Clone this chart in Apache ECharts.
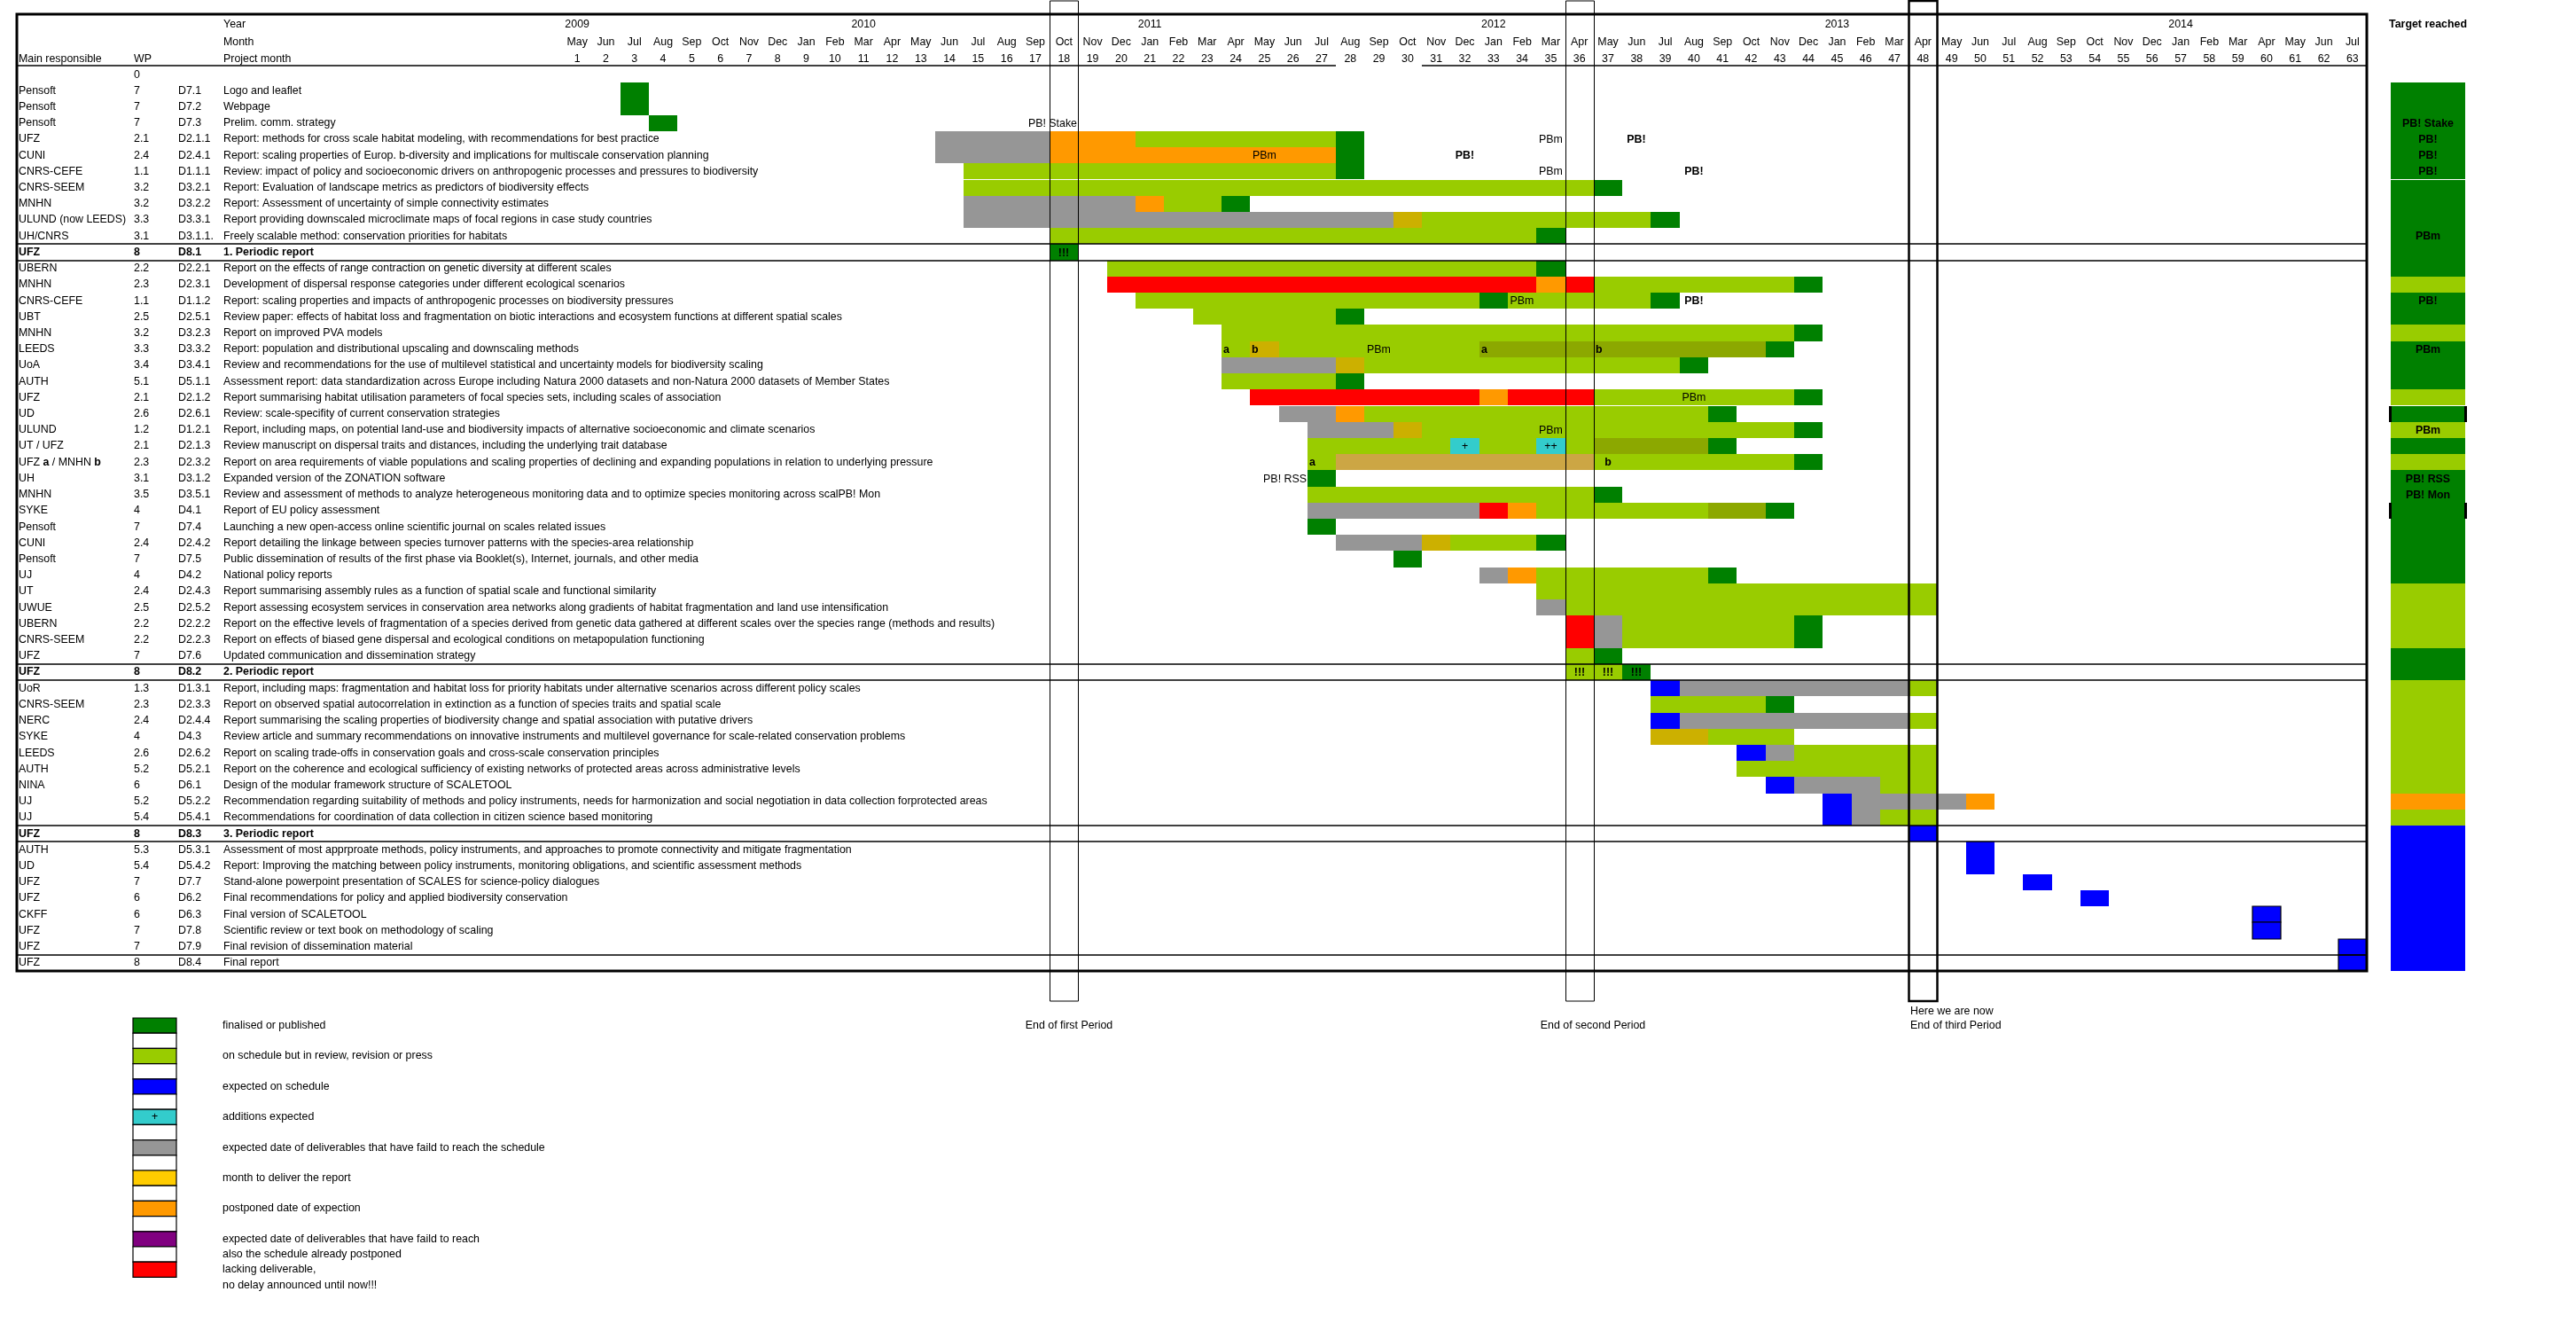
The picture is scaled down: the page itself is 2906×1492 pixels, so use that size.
<!DOCTYPE html>
<html><head><meta charset="utf-8">
<script src="https://cdn.jsdelivr.net/npm/echarts/dist/echarts.min.js"></script>
<style>html,body{margin:0;padding:0;background:#fff}#c{width:2906px;height:1492px}</style>
</head><body><div id="c"></div>
<script>
const FONT = "'Liberation Sans',Arial,sans-serif";
const FS = 12.4;

// ---------- axis tick labels ----------
const projectMonths = ['1','2','3','4','5','6','7','8','9','10','11','12','13','14','15','16','17','18','19','20','21','22','23','24','25','26','27','28','29','30','31','32','33','34','35','36','37','38','39','40','41','42','43','44','45','46','47','48','49','50','51','52','53','54','55','56','57','58','59','60','61','62','63'];
const monthNames = ['May','Jun','Jul','Aug','Sep','Oct','Nov','Dec','Jan','Feb','Mar','Apr','May','Jun','Jul','Aug','Sep','Oct','Nov','Dec','Jan','Feb','Mar','Apr','May','Jun','Jul','Aug','Sep','Oct','Nov','Dec','Jan','Feb','Mar','Apr','May','Jun','Jul','Aug','Sep','Oct','Nov','Dec','Jan','Feb','Mar','Apr','May','Jun','Jul','Aug','Sep','Oct','Nov','Dec','Jan','Feb','Mar','Apr','May','Jun','Jul'];
const yearMonths = [1, 11, 21, 33, 45, 57];
const yearLabels = ['2009','2010','2011','2012','2013','2014'];

// ---------- row categories ----------
const responsible = ['','Pensoft','Pensoft','Pensoft','UFZ','CUNI','CNRS-CEFE','CNRS-SEEM','MNHN','ULUND (now LEEDS)','UH/CNRS','UFZ','UBERN','MNHN','CNRS-CEFE','UBT','MNHN','LEEDS','UoA','AUTH','UFZ','UD','ULUND','UT / UFZ','UFZ *a* / MNHN *b*','UH','MNHN','SYKE','Pensoft','CUNI','Pensoft','UJ','UT','UWUE','UBERN','CNRS-SEEM','UFZ','UFZ','UoR','CNRS-SEEM','NERC','SYKE','LEEDS','AUTH','NINA','UJ','UJ','UFZ','AUTH','UD','UFZ','UFZ','CKFF','UFZ','UFZ','UFZ'];
const wp = ['0','7','7','7','2.1','2.4','1.1','3.2','3.2','3.3','3.1','8','2.2','2.3','1.1','2.5','3.2','3.3','3.4','5.1','2.1','2.6','1.2','2.1','2.3','3.1','3.5','4','7','2.4','7','4','2.4','2.5','2.2','2.2','7','8','1.3','2.3','2.4','4','2.6','5.2','6','5.2','5.4','8','5.3','5.4','7','6','6','7','7','8'];
const deliverables = ['','D7.1','D7.2','D7.3','D2.1.1','D2.4.1','D1.1.1','D3.2.1','D3.2.2','D3.3.1','D3.1.1.','D8.1','D2.2.1','D2.3.1','D1.1.2','D2.5.1','D3.2.3','D3.3.2','D3.4.1','D5.1.1','D2.1.2','D2.6.1','D1.2.1','D2.1.3','D2.3.2','D3.1.2','D3.5.1','D4.1','D7.4','D2.4.2','D7.5','D4.2','D2.4.3','D2.5.2','D2.2.2','D2.2.3','D7.6','D8.2','D1.3.1','D2.3.3','D2.4.4','D4.3','D2.6.2','D5.2.1','D6.1','D5.2.2','D5.4.1','D8.3','D5.3.1','D5.4.2','D7.7','D6.2','D6.3','D7.8','D7.9','D8.4'];
const descriptions = [
 '',
 'Logo and leaflet',
 'Webpage',
 'Prelim. comm. strategy',
 'Report: methods for cross scale habitat modeling, with recommendations for best practice',
 'Report: scaling properties of Europ. b-diversity and implications for multiscale conservation planning',
 'Review: impact of policy and socioeconomic drivers on anthropogenic processes and pressures to biodiversity',
 'Report: Evaluation of landscape metrics as predictors of biodiversity effects',
 'Report: Assessment of uncertainty of simple connectivity estimates',
 'Report providing downscaled microclimate maps of focal regions in case study countries',
 'Freely scalable method: conservation priorities for habitats',
 '1. Periodic report',
 'Report on the effects of range contraction on genetic diversity at different scales',
 'Development of dispersal response categories under different ecological scenarios',
 'Report: scaling properties and impacts of anthropogenic processes on biodiversity pressures',
 'Review paper: effects of habitat loss and fragmentation on biotic interactions and ecosystem functions at different spatial scales',
 'Report on improved PVA models',
 'Report: population and distributional upscaling and downscaling methods',
 'Review and recommendations for the use of multilevel statistical and uncertainty models for biodiversity scaling',
 'Assessment report: data standardization across Europe including Natura 2000 datasets and non-Natura 2000 datasets of Member States',
 'Report summarising habitat utilisation parameters of focal species sets, including scales of association',
 'Review: scale-specifity of current conservation strategies',
 'Report, including maps, on potential land-use and biodiversity impacts of alternative socioeconomic and climate scenarios',
 'Review manuscript on dispersal traits and distances, including the underlying trait database',
 'Report on area requirements of viable populations and scaling properties of declining and expanding populations in relation to underlying pressure',
 'Expanded version of the ZONATION software',
 'Review and assessment of methods to analyze heterogeneous monitoring data and to optimize species monitoring across scalPB! Mon',
 'Report of EU policy assessment',
 'Launching a new open-access online scientific journal on scales related issues',
 'Report detailing the linkage between species turnover patterns with the species-area relationship',
 'Public dissemination of results of the first phase via Booklet(s), Internet, journals, and other media',
 'National policy reports',
 'Report summarising assembly rules as a function of spatial scale and functional similarity',
 'Report assessing ecosystem services in conservation area networks along gradients of habitat fragmentation and land use intensification',
 'Report on the effective levels of fragmentation of a species derived from genetic data gathered at different scales over the species range (methods and results)',
 'Report on effects of biased gene dispersal and ecological conditions on metapopulation functioning',
 'Updated communication and dissemination strategy',
 '2. Periodic report',
 'Report, including maps: fragmentation and habitat loss for priority habitats under alternative scenarios across different policy scales',
 'Report on observed spatial autocorrelation in extinction as a function of species traits and spatial scale',
 'Report summarising the scaling properties of biodiversity change and spatial association with putative drivers',
 'Review article and summary recommendations on innovative instruments and multilevel governance for scale-related conservation problems',
 'Report on scaling trade-offs in conservation goals and cross-scale conservation principles',
 'Report on the coherence and ecological sufficiency of existing networks of protected areas across administrative levels',
 'Design of the modular framework structure of SCALETOOL',
 'Recommendation regarding suitability of methods and policy instruments, needs for harmonization and social negotiation in data collection forprotected areas',
 'Recommendations for coordination of data collection in citizen science based monitoring',
 '3. Periodic report',
 'Assessment of most apprproate methods, policy instruments, and approaches to promote connectivity and mitigate fragmentation',
 'Report: Improving the matching between policy instruments, monitoring obligations, and scientific assessment methods',
 'Stand-alone powerpoint presentation of SCALES for science-policy dialogues',
 'Final recommendations for policy and applied biodiversity conservation',
 'Final version of SCALETOOL',
 'Scientific review or text book on methodology of scaling',
 'Final revision of dissemination material',
 'Final report'
];
const boldRows = [11, 37, 47];

// ---------- status colours ----------
const statusColors = {
  G: '#008000', // finalised or published
  L: '#99cc00', // on schedule but in review
  B: '#0000ff', // expected on schedule
  C: '#33cccc', // additions expected
  X: '#969696', // failed to reach schedule
  Y: '#ccb000', // month to deliver (as shown in cells)
  O: '#ff9900', // postponed
  R: '#ff0000', // lacking deliverable
  V: '#8ca800', // second part (olive)
  T: '#cca644'  // tan
};

// ---------- segments: [row, startMonth, endMonth, status, bordered] ----------
const segments = [
 [1,3,3,'G'],[2,3,3,'G'],[3,4,4,'G'],
 [4,14,17,'X'],[4,18,20,'O'],[4,21,27,'L'],[4,28,28,'G'],
 [5,14,17,'X'],[5,18,27,'O'],[5,28,28,'G'],
 [6,15,27,'L'],[6,28,28,'G'],
 [7,15,36,'L'],[7,37,37,'G'],
 [8,15,20,'X'],[8,21,21,'O'],[8,22,23,'L'],[8,24,24,'G'],
 [9,15,29,'X'],[9,30,30,'Y'],[9,31,38,'L'],[9,39,39,'G'],
 [10,18,34,'L'],[10,35,35,'G'],
 [11,18,18,'G'],
 [12,20,34,'L'],[12,35,35,'G'],
 [13,20,34,'R'],[13,35,35,'O'],[13,36,36,'R'],[13,37,43,'L'],[13,44,44,'G'],
 [14,21,32,'L'],[14,33,33,'G'],[14,34,38,'L'],[14,39,39,'G'],
 [15,23,27,'L'],[15,28,28,'G'],
 [16,24,43,'L'],[16,44,44,'G'],
 [17,24,24,'L'],[17,25,25,'Y'],[17,26,32,'L'],[17,33,42,'V'],[17,43,43,'G'],
 [18,24,27,'X'],[18,28,28,'Y'],[18,29,39,'L'],[18,40,40,'G'],
 [19,24,27,'L'],[19,28,28,'G'],
 [20,25,32,'R'],[20,33,33,'O'],[20,34,36,'R'],[20,37,43,'L'],[20,44,44,'G'],
 [21,26,27,'X'],[21,28,28,'O'],[21,29,40,'L'],[21,41,41,'G'],
 [22,27,29,'X'],[22,30,30,'Y'],[22,31,43,'L'],[22,44,44,'G'],
 [23,27,31,'L'],[23,32,32,'C'],[23,33,34,'L'],[23,35,35,'C'],[23,36,36,'L'],[23,37,40,'V'],[23,41,41,'G'],
 [24,27,27,'L'],[24,28,36,'T'],[24,37,43,'L'],[24,44,44,'G'],
 [25,27,27,'G'],
 [26,27,36,'L'],[26,37,37,'G'],
 [27,27,32,'X'],[27,33,33,'R'],[27,34,34,'O'],[27,35,40,'L'],[27,41,42,'V'],[27,43,43,'G'],
 [28,27,27,'G'],
 [29,28,30,'X'],[29,31,31,'Y'],[29,32,34,'L'],[29,35,35,'G'],
 [30,30,30,'G'],
 [31,33,33,'X'],[31,34,34,'O'],[31,35,40,'L'],[31,41,41,'G'],
 [32,35,48,'L'],
 [33,35,35,'X'],[33,36,48,'L'],
 [34,36,36,'R'],[34,37,37,'X'],[34,38,43,'L'],[34,44,44,'G'],
 [35,36,36,'R'],[35,37,37,'X'],[35,38,43,'L'],[35,44,44,'G'],
 [36,36,36,'L'],[36,37,37,'G'],
 [37,36,37,'L'],[37,38,38,'G'],
 [38,39,39,'B'],[38,40,47,'X'],[38,48,48,'L'],
 [39,39,42,'L'],[39,43,43,'G'],
 [40,39,39,'B'],[40,40,47,'X'],[40,48,48,'L'],
 [41,39,40,'Y'],[41,41,43,'L'],
 [42,42,42,'B'],[42,43,43,'X'],[42,44,48,'L'],
 [43,42,48,'L'],
 [44,43,43,'B'],[44,44,46,'X'],[44,47,48,'L'],
 [45,45,45,'B'],[45,46,49,'X'],[45,50,50,'O'],
 [46,45,45,'B'],[46,46,46,'X'],[46,47,48,'L'],
 [47,48,48,'B'],
 [48,50,50,'B'],[49,50,50,'B'],
 [50,52,52,'B'],
 [51,54,54,'B'],
 [52,60,60,'B',1],[53,60,60,'B',1],
 [54,63,63,'B',1],[55,63,63,'B',1]
];

// ---------- notes inside cells: [row, month, text, bold, align] ----------
const cellNotes = [
 [3,18,'PB! Stake',0,'right'],
 [4,35,'PBm',0,'center'],[4,38,'PB!',1,'center'],
 [5,25,'PBm',0,'center'],[5,32,'PB!',1,'center'],
 [6,35,'PBm',0,'center'],[6,40,'PB!',1,'center'],
 [11,18,'!!!',1,'center'],
 [14,34,'PBm',0,'center'],[14,40,'PB!',1,'center'],
 [17,24,'a',1,'left'],[17,25,'b',1,'left'],[17,29,'PBm',0,'center'],[17,33,'a',1,'left'],[17,37,'b',1,'left'],
 [20,40,'PBm',0,'center'],
 [22,35,'PBm',0,'center'],
 [23,32,'+',0,'center'],[23,35,'++',0,'center'],
 [24,27,'a',1,'left'],[24,37,'b',1,'center'],
 [25,26,'PB! RSS',0,'right'],
 [37,36,'!!!',1,'center'],[37,37,'!!!',1,'center'],[37,38,'!!!',1,'center']
];

// ---------- "Target reached" column ----------
const targetStatus = ['', 'G','G','G','G','G','G','G','G','G','G','G','G','L','G','G','L','G','G','G','L','G','L','G','L','G','G','G','G','G','G','G','L','L','L','L','G','G','L','L','L','L','L','L','L','O','L','B','B','B','B','B','B','B','B','B'];
const targetNotes = [[3,'PB! Stake'],[4,'PB!'],[5,'PB!'],[6,'PB!'],[10,'PBm'],[14,'PB!'],[17,'PBm'],[22,'PBm'],[25,'PB! RSS'],[26,'PB! Mon']];
const targetMarks = [21, 27];

// ---------- periods ----------
const periodMonths = [18, 36, 48];
const periodLabels = ['End of first Period', 'End of second Period', 'Here we are now\nEnd of third Period'];
const separatorRows = [11, 37, 47, 55];

// ---------- legend ----------
const legendColors = ['#008000','#99cc00','#0000ff','#33cccc','#969696','#ffcc00','#ff9900','#800080','#ff0000'];
const legendLabels = ['finalised or published','on schedule but in review, revision or press','expected on schedule','additions expected','expected date of deliverables that have faild to reach the schedule','month to deliver the report','postponed date of expection','expected date of deliverables that have faild to reach\nalso the schedule already postponed','lacking deliverable,\nno delay announced until now!!!'];

// ---------- layout constants ----------
const GRID_LEFT = 635, GRID_RIGHT_X = 2670, GRID_TOP = 75, GRID_BOTTOM_Y = 1095;
const TABLE_LEFT = 19, TABLE_TOP = 16;
const COL_X = {resp: 21, wp: 151, del: 201, desc: 252};

const rowIdx = responsible.map((_, i) => String(i));

function richify(s) { return s.replace(/\*(.+?)\*/g, '{b|$1}'); }
function labelAxis(arr, x) {
  return {
    type: 'category', gridIndex: 0, data: rowIdx, inverse: true, position: 'left',
    offset: GRID_LEFT - x,
    axisLine: {show: false}, axisTick: {show: false}, splitLine: {show: false},
    axisLabel: {
      interval: 0, margin: 0, align: 'left', color: '#000', fontFamily: FONT, fontSize: FS,
      formatter: (v) => { const i = +v; const t = arr[i]; if (!t) return ''; return boldRows.includes(i) ? '{b|' + t + '}' : richify(t); },
      rich: {b: {fontWeight: 'bold', fontFamily: FONT, fontSize: FS, color: '#000'}}
    }
  };
}
function topAxis(offset, fmt) {
  return {
    type: 'category', gridIndex: 0, data: projectMonths, position: 'top', offset: offset,
    axisLine: {show: false}, axisTick: {show: false}, splitLine: {show: false},
    axisLabel: {interval: 0, margin: 2, color: '#000', fontFamily: FONT, fontSize: FS, formatter: fmt}
  };
}

function txt(text, x, y, opt) {
  opt = opt || {};
  return {type: 'text', x: x, y: y, z: 50, style: {text: text, fill: '#000', font: (opt.bold ? 'bold ' : '') + FS + 'px ' + FONT, align: opt.align || 'left', textAlign: opt.align || 'left', verticalAlign: 'middle', textVerticalAlign: 'middle', lineHeight: 17}};
}

const graphics = [];
// table frame
graphics.push({type: 'rect', z: 40, shape: {x: TABLE_LEFT, y: TABLE_TOP, width: GRID_RIGHT_X - TABLE_LEFT, height: GRID_BOTTOM_Y - TABLE_TOP}, style: {fill: 'none', stroke: '#000', lineWidth: 3}});
// header texts
graphics.push(txt('Year', COL_X.desc, 28), txt('Month', COL_X.desc, 48), txt('Project month', COL_X.desc, 67),
  txt('Main responsible', COL_X.resp, 67), txt('WP', COL_X.wp, 67),
  txt('Target reached', 2739, 28, {bold: true, align: 'center'}));
// legend
const LG_X = 150, LG_Y = 1148, LG_W = 49, LG_H = 17.2;
for (let i = 0; i < legendColors.length * 2 - 1; i++) {
  const colored = i % 2 === 0, k = i / 2;
  graphics.push({type: 'rect', z: 40, shape: {x: LG_X, y: LG_Y + i * LG_H, width: LG_W, height: LG_H}, style: {fill: colored ? legendColors[k] : '#fff', stroke: '#000', lineWidth: 1.2}});
  if (colored) {
    const cy = LG_Y + i * LG_H + LG_H / 2;
    const lines = legendLabels[k].split('\n');
    lines.forEach((ln, j) => graphics.push(txt(ln, 251, cy + j * 17.5)));
    if (k === 3) graphics.push(txt('+', LG_X + LG_W / 2, cy, {align: 'center'}));
  }
}

const chart = echarts.init(document.getElementById('c'), null, {renderer: 'canvas'});

function cellRect(api, row, s, e) {
  const c0 = api.coord([s, row]);
  const sz = api.size([1, 1]);
  const x0 = Math.round(c0[0] - sz[0] / 2);
  const x1 = Math.round(c0[0] - sz[0] / 2 + (e - s + 1) * sz[0]);
  const y0 = Math.round(c0[1] - sz[1] / 2);
  const y1 = Math.round(c0[1] + sz[1] / 2);
  return {x: x0, y: y0, width: x1 - x0, height: y1 - y0};
}

const option = {
  backgroundColor: '#fff',
  animation: false,
  textStyle: {fontFamily: FONT},
  grid: [
    {left: GRID_LEFT, top: GRID_TOP, width: GRID_RIGHT_X - GRID_LEFT, height: GRID_BOTTOM_Y - GRID_TOP},
    {left: 2697, top: GRID_TOP, width: 84, height: GRID_BOTTOM_Y - GRID_TOP}
  ],
  xAxis: [
    topAxis(0, (v) => v),
    topAxis(19, (v, i) => monthNames[i]),
    topAxis(39, (v, i) => { const k = yearMonths.indexOf(i + 1); return k >= 0 ? yearLabels[k] : ''; }),
    {type: 'category', gridIndex: 1, data: ['target'], show: false}
  ],
  yAxis: [
    {type: 'category', gridIndex: 0, data: rowIdx, inverse: true, show: false},
    labelAxis(responsible, COL_X.resp),
    labelAxis(wp, COL_X.wp),
    labelAxis(deliverables, COL_X.del),
    labelAxis(descriptions, COL_X.desc),
    {type: 'category', gridIndex: 1, data: rowIdx, inverse: true, show: false}
  ],
  graphic: graphics,
  series: [
    { // status bars
      type: 'custom', name: 'status', xAxisIndex: 0, yAxisIndex: 0, z: 5,
      data: segments.map(s => [s[0], s[1] - 1, s[2] - 1]),
      encode: {x: [1, 2], y: 0},
      renderItem(params, api) {
        const seg = segments[params.dataIndex];
        const r = cellRect(api, api.value(0), api.value(1), api.value(2));
        return {type: 'rect', shape: r, style: {fill: statusColors[seg[3]], stroke: seg[4] ? '#000' : null, lineWidth: seg[4] ? 1.2 : 0}};
      }
    },
    { // notes in cells
      type: 'custom', name: 'notes', xAxisIndex: 0, yAxisIndex: 0, z: 8,
      data: cellNotes.map(n => [n[0], n[1] - 1]),
      encode: {x: 1, y: 0},
      renderItem(params, api) {
        const n = cellNotes[params.dataIndex];
        const r = cellRect(api, api.value(0), api.value(1), api.value(1));
        const al = n[4];
        const x = al === 'right' ? r.x + r.width - 1 : al === 'left' ? r.x + 2 : r.x + r.width / 2;
        return {type: 'text', style: {text: n[2], x: x, y: r.y + r.height / 2 + 1, fill: '#000', font: (n[3] ? 'bold ' : '') + FS + 'px ' + FONT, align: al, verticalAlign: 'middle'}};
      }
    },
    { // period boxes
      type: 'custom', name: 'periods', xAxisIndex: 0, yAxisIndex: 0, z: 20,
      data: periodMonths.map(m => [m - 1, 0]),
      encode: {x: 0, y: 1},
      renderItem(params, api) {
        const r = cellRect(api, api.value(1), api.value(0), api.value(0));
        const last = params.dataIndex === periodMonths.length - 1;
        const lw = last ? 2.5 : 1;
        const label = periodLabels[params.dataIndex];
        const nLines = label.split('\n').length;
        return {type: 'group', children: [
          {type: 'rect', shape: {x: r.x + 0.5, y: 1, width: r.width, height: 1128}, style: {fill: 'none', stroke: '#000', lineWidth: lw}},
          {type: 'text', style: {text: label, x: last ? r.x + 2 : r.x + r.width / 2 + (params.dataIndex === 0 ? 6 : 15),
            y: 1157 - (nLines - 1) * 8, fill: '#000', font: FS + 'px ' + FONT, align: last ? 'left' : 'center', verticalAlign: 'middle', lineHeight: 16}}
        ]};
      }
    },
    { // separator lines around periodic reports + header underline
      type: 'custom', name: 'separators', xAxisIndex: 0, yAxisIndex: 0, z: 21,
      data: separatorRows.map(r => [0, r]),
      encode: {x: 0, y: 1},
      renderItem(params, api) {
        const row = api.value(1);
        const r = cellRect(api, row, 0, 62);
        const ch = [{type: 'line', shape: {x1: TABLE_LEFT, y1: r.y, x2: GRID_RIGHT_X, y2: r.y}, style: {stroke: '#000', lineWidth: 1.5}}];
        if (row !== 55) ch.push({type: 'line', shape: {x1: TABLE_LEFT, y1: r.y + r.height, x2: GRID_RIGHT_X, y2: r.y + r.height}, style: {stroke: '#000', lineWidth: 1.5}});
        if (params.dataIndex === 0) {
          const a = cellRect(api, 0, 0, 26), b = cellRect(api, 0, 30, 62);
          ch.push({type: 'line', shape: {x1: TABLE_LEFT, y1: GRID_TOP - 1, x2: a.x + a.width, y2: GRID_TOP - 1}, style: {stroke: '#000', lineWidth: 1.5}});
          ch.push({type: 'line', shape: {x1: b.x, y1: GRID_TOP - 1, x2: GRID_RIGHT_X, y2: GRID_TOP - 1}, style: {stroke: '#000', lineWidth: 1.5}});
        }
        return {type: 'group', children: ch};
      }
    },
    { // target reached column
      type: 'custom', name: 'target', xAxisIndex: 3, yAxisIndex: 5, z: 5,
      data: targetStatus.map((s, i) => [0, i]),
      encode: {x: 0, y: 1},
      renderItem(params, api) {
        const st = targetStatus[params.dataIndex];
        if (!st) return null;
        const r = cellRect(api, api.value(1), 0, 0);
        return {type: 'rect', shape: r, style: {fill: statusColors[st]}};
      }
    },
    { // target notes
      type: 'custom', name: 'targetNotes', xAxisIndex: 3, yAxisIndex: 5, z: 8,
      data: targetNotes.map(n => [0, n[0]]),
      encode: {x: 0, y: 1},
      renderItem(params, api) {
        const r = cellRect(api, api.value(1), 0, 0);
        return {type: 'text', style: {text: targetNotes[params.dataIndex][1], x: r.x + r.width / 2, y: r.y + r.height / 2 + 1, fill: '#000', font: 'bold ' + FS + 'px ' + FONT, align: 'center', verticalAlign: 'middle'}};
      }
    },
    { // target marks
      type: 'custom', name: 'targetMarks', xAxisIndex: 3, yAxisIndex: 5, z: 9,
      data: targetMarks.map(m => [0, m]),
      encode: {x: 0, y: 1},
      renderItem(params, api) {
        const r = cellRect(api, api.value(1), 0, 0);
        return {type: 'group', children: [
          {type: 'rect', shape: {x: r.x - 2, y: r.y, width: 3, height: r.height}, style: {fill: '#000'}},
          {type: 'rect', shape: {x: r.x + r.width - 1, y: r.y, width: 3, height: r.height}, style: {fill: '#000'}}
        ]};
      }
    }
  ]
};
chart.setOption(option);
</script>
</body></html>
